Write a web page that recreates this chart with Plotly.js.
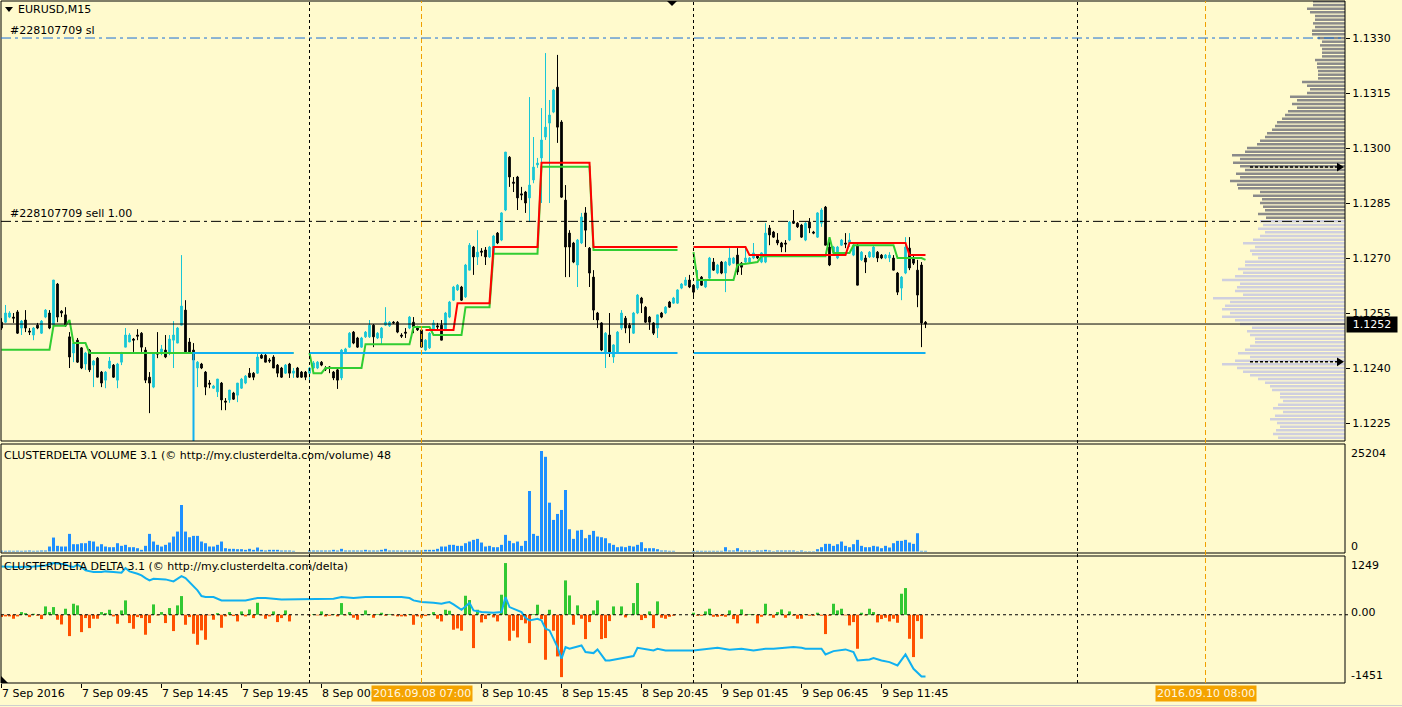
<!DOCTYPE html>
<html>
<head>
<meta charset="utf-8">
<script src="https://cdn.plot.ly/plotly-3.0.1.min.js"></script>
<style>
html,body{margin:0;padding:0;background:#fffacd;}
#chart{width:1402px;height:707px;}
</style>
</head>
<body>
<div id="chart"></div>
<script>
// ---------------- DATA ----------------
const open = [
1.12525,1.12525,1.12539,1.12539,1.12553,1.12509,1.12531,1.12501,1.12490,1.12517,
1.12495,1.12539,1.12550,1.12517,1.12629,1.12555,1.12545,1.12485,1.12441,1.12476,
1.12455,1.12411,1.12449,1.12408,1.12427,1.12389,1.12367,1.12400,1.12408,1.12367,
1.12416,1.12457,1.12471,1.12479,1.12490,1.12495,1.12449,1.12375,1.12348,1.12441,
1.12444,1.12449,1.12441,1.12476,1.12468,1.12517,1.12558,1.12471,1.12449,1.12400,
1.12411,1.12389,1.12359,1.12345,1.12335,1.12359,1.12310,1.12313,1.12332,1.12326,
1.12345,1.12359,1.12386,1.12386,1.12386,1.12435,1.12435,1.12422,1.12430,1.12408,
1.12400,1.12386,1.12411,1.12386,1.12400,1.12389,1.12389,1.12386,1.12400,1.12400,
1.12416,1.12400,1.12403,1.12389,1.12395,1.12373,1.12441,1.12457,1.12498,1.12482,
1.12457,1.12485,1.12485,1.12517,1.12482,1.12482,1.12517,1.12515,1.12525,1.12525,
1.12490,1.12498,1.12509,1.12525,1.12512,1.12504,1.12449,1.12455,1.12504,1.12515,
1.12517,1.12504,1.12539,1.12585,1.12613,1.12621,1.12594,1.12667,1.12730,1.12703,
1.12719,1.12722,1.12703,1.12714,1.12768,1.12749,1.12831,1.12975,1.12907,1.12921,
1.12875,1.12880,1.12864,1.12913,1.12954,1.12973,1.13030,1.13068,1.13098,1.13166,
1.13071,1.12858,1.12768,1.12741,1.12681,1.12741,1.12823,1.12727,1.12648,1.12550,
1.12523,1.12444,1.12490,1.12430,1.12444,1.12509,1.12536,1.12517,1.12495,1.12550,
1.12591,1.12566,1.12539,1.12523,1.12509,1.12550,1.12550,1.12580,1.12577,1.12577,
1.12618,1.12626,1.12640,1.12626,1.12618,1.12648,1.12621,1.12645,1.12689,1.12659,
1.12689,1.12659,1.12681,1.12686,1.12708,1.12686,1.12689,1.12689,1.12700,1.12708,
1.12689,1.12689,1.12782,1.12771,1.12749,1.12741,1.12741,1.12749,1.12798,1.12795,
1.12790,1.12749,1.12798,1.12771,1.12757,1.12795,1.12839,1.12730,1.12714,1.12700,
1.12735,1.12741,1.12741,1.12708,1.12735,1.12695,1.12700,1.12703,1.12703,1.12716,
1.12708,1.12700,1.12700,1.12700,1.12659,1.12618,1.12659,1.12727,1.12700,1.12667,
1.12681,1.12525];
const high = [
1.12536,1.12572,1.12555,1.12550,1.12558,1.12531,1.12558,1.12509,1.12512,1.12523,
1.12531,1.12561,1.12558,1.12640,1.12632,1.12558,1.12566,1.12498,1.12476,1.12482,
1.12457,1.12444,1.12452,1.12422,1.12430,1.12392,1.12392,1.12430,1.12411,1.12414,
1.12444,1.12509,1.12495,1.12482,1.12506,1.12498,1.12457,1.12389,1.12441,1.12498,
1.12463,1.12490,1.12490,1.12528,1.12512,1.12708,1.12585,1.12482,1.12468,1.12419,
1.12414,1.12392,1.12367,1.12354,1.12370,1.12362,1.12318,1.12340,1.12335,1.12359,
1.12373,1.12381,1.12400,1.12389,1.12441,1.12438,1.12438,1.12427,1.12435,1.12411,
1.12403,1.12411,1.12414,1.12400,1.12403,1.12392,1.12392,1.12403,1.12419,1.12419,
1.12419,1.12405,1.12405,1.12392,1.12397,1.12452,1.12455,1.12498,1.12501,1.12485,
1.12485,1.12501,1.12531,1.12520,1.12498,1.12512,1.12566,1.12528,1.12528,1.12528,
1.12495,1.12509,1.12542,1.12539,1.12515,1.12506,1.12479,1.12498,1.12531,1.12523,
1.12531,1.12553,1.12583,1.12624,1.12629,1.12624,1.12684,1.12741,1.12733,1.12776,
1.12727,1.12730,1.12733,1.12763,1.12771,1.12825,1.12989,1.12978,1.12921,1.12924,
1.12894,1.12883,1.13139,1.13030,1.12973,1.13109,1.13259,1.13131,1.13161,1.13254,
1.13076,1.12899,1.12776,1.12744,1.12752,1.12823,1.12839,1.12730,1.12667,1.12553,
1.12525,1.12498,1.12550,1.12465,1.12501,1.12558,1.12542,1.12523,1.12553,1.12602,
1.12594,1.12569,1.12542,1.12525,1.12545,1.12553,1.12569,1.12583,1.12594,1.12615,
1.12632,1.12648,1.12654,1.12629,1.12667,1.12651,1.12643,1.12703,1.12700,1.12684,
1.12692,1.12692,1.12727,1.12703,1.12727,1.12689,1.12727,1.12703,1.12741,1.12711,
1.12716,1.12795,1.12790,1.12774,1.12768,1.12744,1.12749,1.12801,1.12831,1.12798,
1.12793,1.12798,1.12809,1.12774,1.12825,1.12836,1.12842,1.12749,1.12733,1.12733,
1.12752,1.12768,1.12768,1.12738,1.12738,1.12719,1.12708,1.12719,1.12733,1.12719,
1.12711,1.12711,1.12716,1.12708,1.12662,1.12651,1.12757,1.12757,1.12708,1.12695,
1.12689,1.12528];
const low = [
1.12504,1.12523,1.12536,1.12523,1.12493,1.12490,1.12498,1.12490,1.12476,1.12506,
1.12493,1.12536,1.12506,1.12515,1.12525,1.12539,1.12512,1.12400,1.12416,1.12414,
1.12397,1.12395,1.12389,1.12348,1.12375,1.12348,1.12345,1.12397,1.12373,1.12345,
1.12408,1.12457,1.12471,1.12444,1.12476,1.12444,1.12359,1.12277,1.12345,1.12427,
1.12435,1.12427,1.12435,1.12400,1.12468,1.12517,1.12444,1.12441,1.12408,1.12348,
1.12397,1.12326,1.12345,1.12343,1.12321,1.12285,1.12285,1.12305,1.12313,1.12307,
1.12343,1.12356,1.12373,1.12367,1.12384,1.12425,1.12416,1.12414,1.12400,1.12375,
1.12373,1.12384,1.12373,1.12373,1.12373,1.12373,1.12367,1.12359,1.12397,1.12397,
1.12405,1.12392,1.12386,1.12367,1.12343,1.12367,1.12438,1.12455,1.12465,1.12455,
1.12455,1.12482,1.12482,1.12457,1.12479,1.12463,1.12515,1.12512,1.12520,1.12495,
1.12482,1.12482,1.12506,1.12495,1.12501,1.12457,1.12446,1.12452,1.12501,1.12504,
1.12476,1.12501,1.12536,1.12583,1.12610,1.12583,1.12591,1.12667,1.12654,1.12681,
1.12705,1.12681,1.12700,1.12711,1.12738,1.12746,1.12828,1.12894,1.12880,1.12831,
1.12858,1.12823,1.12798,1.12904,1.12946,1.12850,1.13022,1.12850,1.13095,1.13014,
1.12864,1.12648,1.12648,1.12686,1.12621,1.12738,1.12730,1.12621,1.12531,1.12509,
1.12446,1.12400,1.12430,1.12414,1.12441,1.12504,1.12495,1.12468,1.12493,1.12547,
1.12550,1.12523,1.12504,1.12490,1.12482,1.12536,1.12547,1.12564,1.12575,1.12575,
1.12615,1.12624,1.12618,1.12594,1.12613,1.12624,1.12618,1.12643,1.12665,1.12656,
1.12656,1.12607,1.12678,1.12684,1.12654,1.12654,1.12686,1.12686,1.12697,1.12697,
1.12686,1.12686,1.12735,1.12755,1.12735,1.12716,1.12716,1.12746,1.12793,1.12782,
1.12755,1.12746,1.12768,1.12765,1.12755,1.12785,1.12735,1.12678,1.12708,1.12697,
1.12733,1.12727,1.12730,1.12705,1.12626,1.12692,1.12659,1.12700,1.12700,1.12689,
1.12697,1.12697,1.12689,1.12667,1.12599,1.12585,1.12656,1.12667,1.12681,1.12566,
1.12457,1.12509];
const close = [
1.12509,1.12550,1.12550,1.12536,1.12495,1.12528,1.12509,1.12498,1.12509,1.12509,
1.12528,1.12558,1.12509,1.12640,1.12539,1.12550,1.12515,1.12430,1.12468,1.12416,
1.12400,1.12441,1.12395,1.12419,1.12375,1.12359,1.12389,1.12419,1.12375,1.12411,
1.12441,1.12490,1.12490,1.12476,1.12487,1.12457,1.12367,1.12359,1.12441,1.12438,
1.12452,1.12430,1.12479,1.12490,1.12509,1.12569,1.12444,1.12444,1.12422,1.12416,
1.12400,1.12348,1.12356,1.12351,1.12370,1.12313,1.12307,1.12340,1.12315,1.12359,
1.12370,1.12378,1.12375,1.12375,1.12430,1.12427,1.12416,1.12419,1.12400,1.12386,
1.12375,1.12408,1.12386,1.12392,1.12375,1.12375,1.12375,1.12400,1.12414,1.12416,
1.12408,1.12397,1.12400,1.12373,1.12367,1.12449,1.12452,1.12495,1.12468,1.12457,
1.12482,1.12498,1.12517,1.12485,1.12495,1.12509,1.12525,1.12525,1.12523,1.12498,
1.12487,1.12495,1.12539,1.12512,1.12504,1.12457,1.12476,1.12495,1.12523,1.12512,
1.12476,1.12550,1.12580,1.12621,1.12626,1.12585,1.12681,1.12735,1.12703,1.12716,
1.12716,1.12703,1.12730,1.12760,1.12741,1.12823,1.12989,1.12921,1.12904,1.12864,
1.12872,1.12850,1.12899,1.12948,1.12959,1.13022,1.13057,1.13090,1.13158,1.13057,
1.12866,1.12730,1.12730,1.12689,1.12749,1.12812,1.12776,1.12659,1.12558,1.12531,
1.12449,1.12495,1.12444,1.12463,1.12498,1.12550,1.12509,1.12509,1.12550,1.12599,
1.12577,1.12525,1.12525,1.12495,1.12545,1.12539,1.12566,1.12566,1.12591,1.12613,
1.12629,1.12640,1.12621,1.12607,1.12640,1.12626,1.12640,1.12700,1.12667,1.12681,
1.12659,1.12689,1.12700,1.12700,1.12662,1.12675,1.12700,1.12700,1.12714,1.12700,
1.12714,1.12768,1.12763,1.12757,1.12741,1.12730,1.12738,1.12798,1.12795,1.12785,
1.12757,1.12795,1.12782,1.12768,1.12823,1.12831,1.12735,1.12681,1.12730,1.12730,
1.12749,1.12738,1.12749,1.12735,1.12626,1.12716,1.12689,1.12716,1.12730,1.12700,
1.12700,1.12708,1.12708,1.12667,1.12607,1.12648,1.12730,1.12673,1.12686,1.12599,
1.12523,1.12520];

const volume = [
200,170,200,170,200,170,200,250,170,200,
250,250,1250,3500,1420,1250,1250,4420,1830,1830,
2080,2080,2670,2500,1250,1830,1250,1080,1080,2080,
1420,1670,1080,1080,830,420,1420,4420,2500,1670,
1250,1670,2250,3750,5000,11670,5000,3580,3920,3920,
2500,2080,1250,1250,1670,2500,830,670,670,580,
580,420,670,420,1000,420,250,420,420,420,
250,250,250,170,null,null,null,250,250,250,
250,250,250,420,250,670,250,250,250,250,
250,420,250,250,250,420,670,250,250,250,
250,250,250,250,250,250,420,420,420,670,
1250,1250,1670,1670,1420,1420,2080,2500,2920,3170,
2250,1250,1420,1080,1080,1670,4170,2670,2080,2500,
1420,2670,15170,4420,3920,25204,23750,12250,7920,9420,
10420,15420,5580,3170,5250,5420,3330,4170,5170,3750,
3580,3330,2080,1670,1080,1250,1080,1420,1250,1670,
2330,830,830,830,580,250,250,170,170,null,
null,null,null,170,170,170,170,170,170,170,
170,1080,250,250,830,250,250,250,100,250,
250,420,250,100,250,250,250,250,250,100,
250,100,100,100,580,1080,1920,1920,1420,1830,
2500,1420,1080,1830,2920,1420,1080,1080,1420,1250,
830,1420,1000,2080,2670,2670,2920,2250,1920,4580,
170,170];

const delta = [
-50,-35,-35,-85,-35,57,35,-50,21,-21,
-92,177,57,163,-106,-206,128,-454,234,199,
-369,-71,-284,-85,-85,57,35,106,-35,-191,
92,305,-177,-298,-50,-71,-425,-177,220,-14,
57,-177,142,-347,199,397,-213,-50,-404,-638,
-333,-532,-14,-106,35,-277,-35,57,-28,-142,
71,-35,113,-71,255,-14,-85,-35,71,-156,
-71,92,-142,null,null,null,null,-14,14,-14,
71,-35,-21,14,-35,248,-14,57,-64,-106,
14,92,14,-64,14,43,-21,14,-14,-35,
-35,-35,14,-213,-35,-64,-28,14,57,-85,
-142,106,85,-319,-291,-340,404,312,-709,106,
-163,-92,21,-57,-142,426,1099,-553,-340,-482,
-113,-184,-603,14,213,-92,-957,106,-340,-886,
-1326,730,411,-213,199,-85,-518,-156,92,305,
-518,-496,-135,177,0,177,-57,14,248,674,
-113,-71,71,-284,284,-64,-85,-43,-21,null,
null,null,null,43,-21,-21,71,128,-43,-43,
-28,-43,92,-92,-184,113,-14,14,14,-184,
-43,234,-14,-64,57,113,-64,71,-21,-85,
-85,14,-21,-21,43,-21,-411,-21,234,92,
128,-14,-227,-156,-723,43,-14,128,57,-163,
-92,-64,-142,-85,-170,447,567,-511,-900,-135,
-511,null];

// cumulative delta line (vertices)
const cdBars = [0,4,8,11,13,16,17,18,19,20,21,23,25,26,28,30,31,32,34,35,36,37,38,40,41,43,44,45,46,47,48,49,50,51,53,55,61,63,64,66,68,70,83,85,88,91,100,102,103,105,108,110,111,112,113,114,115,116,117,118,120,123,125,126,127,130,131,132,134,135,136,137,138,139,140,141,142,145,146,148,149,151,152,154,156,158,159,161,163,164,166,173,176,179,182,185,188,191,193,197,198,200,201,205,206,208,211,213,214,217,218,220,222,224,226,228,230,231];
const cdValues = [1028,1014,1028,1049,1099,1071,1028,1014,1064,1014,943,908,908,922,908,893,993,922,872,837,780,730,766,766,752,709,766,822,780,695,624,518,397,376,376,305,305,340,355,355,340,326,340,376,355,376,376,355,305,269,255,234,255,269,220,163,106,177,255,92,57,43,57,376,163,57,-64,-121,-85,-121,-298,-333,-510,-688,-936,-688,-723,-652,-794,-815,-737,-971,-971,-936,-900,-879,-702,-737,-759,-723,-759,-759,-723,-702,-744,-723,-759,-723,-723,-702,-688,-702,-723,-723,-844,-773,-737,-794,-971,-950,-922,-971,-1007,-1078,-844,-1149,-1312,-1312];

// indicator levels (vertices, null = break between sessions)
const greenBars = [0,12,13,16,17,18,21,22,73,null,77,78,80,81,90,91,102,103,107,108,115,116,122,123,134,135,147,148,169,null,173,174,183,184,187,189,190,206,207,208,212,213,223,224,230,231];
const greenValues = [1.12450,1.12450,1.12515,1.12515,1.12531,1.12468,1.12468,1.12441,1.12441,null,1.12441,1.12386,1.12386,1.12400,1.12400,1.12465,1.12465,1.12512,1.12512,1.12490,1.12490,1.12566,1.12566,1.12712,1.12712,1.12949,1.12949,1.12722,1.12722,null,1.12716,1.12640,1.12640,1.12681,1.12686,1.12689,1.12705,1.12705,1.12757,1.12714,1.12714,1.12735,1.12735,1.12700,1.12700,1.12695];
const redBars = [106,113,114,122,123,134,135,147,148,169,null,173,186,187,211,212,226,227,231];
const redValues = [1.12504,1.12504,1.12577,1.12577,1.12730,1.12730,1.12960,1.12960,1.12730,1.12730,null,1.12730,1.12730,1.12708,1.12708,1.12741,1.12741,1.12708,1.12708];
const blueBars = [0,48,73,null,77,169,null,173,231];
const blueValues = [1.12100,1.12441,1.12441,null,1.12441,1.12441,null,1.12441,1.12441];

// volume profile (top level 1.1340, one value per pip downward)
const profileTop = 1.1340;
const profileStep = 0.0001;
const profileVolume = [
32,32,38,35,30,30,32,30,33,33,
27,23,25,23,23,23,30,28,28,27,
27,27,43,38,35,38,55,48,53,48,
57,60,63,68,70,73,78,80,85,88,
98,100,113,105,112,105,100,109,105,115,
108,107,85,92,83,85,82,80,87,79,
85,82,87,80,85,92,102,90,95,93,
87,100,100,107,102,110,123,105,108,110,
102,132,115,120,123,115,123,110,105,93,
98,95,90,90,95,100,107,95,110,123,
108,102,95,87,80,75,73,65,65,62,
67,72,62,70,75,68,65,69,72,67];
const pocPrices = [1.12948, 1.12417];

// axis labels
const priceTicks = [1.1225,1.1240,1.1255,1.1270,1.1285,1.1300,1.1315,1.1330];
const tickBars = [0,20,40,60,80,120,140,160,180,200,220];
const tickText = ['7 Sep 2016','7 Sep 09:45','7 Sep 14:45','7 Sep 19:45','8 Sep 00:45','8 Sep 10:45','8 Sep 15:45','8 Sep 20:45','9 Sep 01:45','9 Sep 06:45','9 Sep 11:45'];
const dayBars = [77,173,269];
const markerBars = [105,301];
const markerText = ['2016.09.08 07:00','2016.09.10 08:00'];
const slPrice = 1.1330, entryPrice = 1.1280, bidPrice = 1.1252;
const volMax = 25204, deltaMax = 1249, deltaMin = -1451;

// ---------------- BUILD ----------------
const bars = open.map((_, i) => i);
const PW = 1344, PH = 682, ML = 1, MT = 1;
const fx = x => (x - ML) / PW;
const fy = y => (MT + PH - y) / PH;
const font = {family: 'DejaVu Sans, Verdana, sans-serif', size: 11, color: '#000'};
const BG = '#fffacd';

const levels = profileVolume.map((_, k) => +(profileTop - k * profileStep).toFixed(4));
const profColors = levels.map(p => p >= 1.12805 ? '#8a8a8a' : '#cfcfdf');

const traces = [
  {type:'bar', orientation:'h', x:profileVolume, y:levels, xaxis:'x2', yaxis:'y',
   width:0.000068, marker:{color:profColors, line:{width:0}}, hoverinfo:'skip', showlegend:false},
  {type:'candlestick', x:bars, open:open, high:high, low:low, close:close, xaxis:'x', yaxis:'y',
   increasing:{line:{color:'#18c6d6', width:1}, fillcolor:'#18c6d6'},
   decreasing:{line:{color:'#000000', width:1}, fillcolor:'#000000'},
   whiskerwidth:0, hoverinfo:'skip', showlegend:false},
  {type:'scatter', mode:'lines', x:greenBars, y:greenValues, xaxis:'x', yaxis:'y',
   line:{color:'#32cd32', width:2}, connectgaps:false, hoverinfo:'skip', showlegend:false},
  {type:'scatter', mode:'lines', x:redBars, y:redValues, xaxis:'x', yaxis:'y',
   line:{color:'#ff0000', width:2}, connectgaps:false, hoverinfo:'skip', showlegend:false},
  {type:'scatter', mode:'lines', x:blueBars, y:blueValues, xaxis:'x', yaxis:'y',
   line:{color:'#10b0f0', width:2, shape:'hv'}, connectgaps:false, hoverinfo:'skip', showlegend:false},
  {type:'bar', x:bars, y:volume, xaxis:'x', yaxis:'y2', width:0.75,
   marker:{color:'#1e8fff', line:{width:0}}, hoverinfo:'skip', showlegend:false},
  {type:'bar', x:bars, y:delta, xaxis:'x', yaxis:'y3', width:0.75,
   marker:{color:delta.map(v => (v !== null && v >= 0) ? '#32c832' : '#ff5000'), line:{width:0}},
   hoverinfo:'skip', showlegend:false},
  {type:'scatter', mode:'lines', x:cdBars, y:cdValues, xaxis:'x', yaxis:'y3',
   line:{color:'#10b0f0', width:2}, hoverinfo:'skip', showlegend:false}
];

const shapes = [];
const ann = [];
// pane borders
['y','y2','y3'].forEach(a => shapes.push({type:'rect', xref:'paper', yref:a+' domain', x0:0, x1:1, y0:0, y1:1,
  line:{color:'#000', width:1}, fillcolor:'rgba(0,0,0,0)', layer:'above'}));
// day separators
dayBars.forEach(b => shapes.push({type:'line', xref:'x', yref:'paper', x0:b, x1:b, y0:0, y1:1,
  line:{color:'#000', width:1, dash:'3px,3px'}, layer:'above'}));
markerBars.forEach(b => shapes.push({type:'line', xref:'x', yref:'paper', x0:b, x1:b, y0:0, y1:1,
  line:{color:'#f0a000', width:1, dash:'5px,3px'}, layer:'above'}));
// order lines
shapes.push({type:'line', xref:'paper', yref:'y', x0:0, x1:1, y0:slPrice, y1:slPrice,
  line:{color:'#1a6fd8', width:1, dash:'10px,4px,3px,4px'}});
shapes.push({type:'line', xref:'paper', yref:'y', x0:0, x1:1, y0:entryPrice, y1:entryPrice,
  line:{color:'#000', width:1, dash:'10px,4px,3px,4px'}});
shapes.push({type:'line', xref:'paper', yref:'y', x0:0, x1:1, y0:bidPrice, y1:bidPrice,
  line:{color:'#000', width:1}});
shapes.push({type:'line', xref:'paper', yref:'y3', x0:0, x1:1.003, y0:0, y1:0,
  line:{color:'#000', width:1, dash:'3px,3px'}});
// POC arrows
pocPrices.forEach(p => {
  shapes.push({type:'line', xref:'paper', yref:'y', x0:fx(1250), x1:fx(1338), y0:p, y1:p,
    line:{color:'#000', width:1.5, dash:'3px,2px'}});
  shapes.push({type:'path', xref:'paper', yref:'y',
    path:`M ${fx(1337)},${p+0.00012} L ${fx(1344)},${p} L ${fx(1337)},${p-0.00012} Z`,
    fillcolor:'#000', line:{color:'#000', width:0}});
});
// small triangles
shapes.push({type:'path', xref:'paper', yref:'paper',
  path:`M ${fx(5)},${fy(7)} L ${fx(13)},${fy(7)} L ${fx(9)},${fy(12)} Z`, fillcolor:'#000', line:{width:0}});
shapes.push({type:'path', xref:'paper', yref:'paper',
  path:`M ${fx(667)},${fy(1)} L ${fx(677)},${fy(1)} L ${fx(672)},${fy(6)} Z`, fillcolor:'#000', line:{width:0}});
shapes.push({type:'path', xref:'paper', yref:'paper',
  path:`M ${fx(1)},${fy(676)} L ${fx(1)},${fy(683)} L ${fx(8)},${fy(683)} Z`, fillcolor:'#000', line:{width:0}});
shapes.push({type:'line', xref:'paper', yref:'paper', x0:fx(0), x1:fx(1402), y0:fy(705.5), y1:fy(705.5),
  line:{color:'#cfcfcf', width:1}});

// texts
const txt = (x, y, t) => ann.push({xref:'paper', yref:'paper', x:fx(x), y:fy(y), xanchor:'left', yanchor:'middle',
  text:t, showarrow:false, font:font});
txt(16, 10, 'EURUSD,M15');
txt(8, 31, '#228107709 sl');
txt(8, 214, '#228107709 sell 1.00');
txt(2, 455, 'CLUSTERDELTA VOLUME 3.1 (© http://my.clusterdelta.com/volume) 48');
txt(2, 566, 'CLUSTERDELTA DELTA 3.1 (© http://my.clusterdelta.com/delta)');

// right-side labels of indicator panes
const rlab = (yref, v, t, ys) => ann.push({xref:'paper', yref:yref, x:1, y:v, xanchor:'left', yanchor:'middle',
  xshift:4, yshift:ys, text:t, showarrow:false, font:font});
rlab('y2', volMax, String(volMax), -2);
rlab('y2', 0, '0', 5);
rlab('y3', deltaMax, String(deltaMax), -9);
rlab('y3', 0, '0.00', 2);
rlab('y3', deltaMin, String(deltaMin), 8);

// bid price box
ann.push({xref:'paper', yref:'y', x:1, y:bidPrice, xanchor:'left', yanchor:'middle', xshift:1,
  text:bidPrice.toFixed(4), showarrow:false, bgcolor:'#000', borderpad:1, width:48, height:13,
  font:{family:font.family, size:11, color:'#fff'}});

// time labels (left-aligned at their tick)
tickBars.forEach((b, k) => ann.push({xref:'x', yref:'paper', x:b, y:0, xanchor:'left', yanchor:'top',
  xshift:-2, yshift:-2, text:tickText[k], showarrow:false, font:font}));
markerBars.forEach((b, k) => ann.push({xref:'x', yref:'paper', x:b, y:0, xanchor:'center', yanchor:'top',
  yshift:-2, text:markerText[k], showarrow:false, bgcolor:'#f4a300', borderpad:1,
  font:{family:font.family, size:11, color:'#fff8e0'}}));

const layout = {
  width:1402, height:707,
  margin:{l:ML, r:57, t:MT, b:24, pad:0},
  paper_bgcolor:BG, plot_bgcolor:BG,
  showlegend:false, barmode:'overlay', boxgap:0.4,
  font:font,
  xaxis:{domain:[0,1], range:[-0.125, 335.875], anchor:'y3', showgrid:false, zeroline:false,
    showline:false, ticks:'outside', ticklen:4, tickcolor:'#000', tickvals:tickBars,
    showticklabels:false, rangeslider:{visible:false}, fixedrange:true},
  xaxis2:{overlaying:'x', anchor:'y', range:[PW, 0], visible:false, fixedrange:true},
  yaxis:{domain:[(683-441)/PH, 1], range:[1.12201, 1.13401], side:'right', anchor:'x',
    tickvals:priceTicks, ticktext:priceTicks.map(v => v.toFixed(4)), ticks:'outside', ticklen:4,
    tickcolor:'#000', showgrid:false, zeroline:false, showline:false, tickfont:font, fixedrange:true},
  yaxis2:{domain:[(683-553)/PH, (683-444)/PH], range:[-376, 26962], anchor:'x', side:'right',
    showticklabels:false, ticks:'', showgrid:false, zeroline:false, showline:false, fixedrange:true},
  yaxis3:{domain:[0, (683-556)/PH], range:[deltaMin, deltaMax], anchor:'x', side:'right',
    showticklabels:false, ticks:'', showgrid:false, zeroline:false, showline:false, fixedrange:true},
  shapes:shapes,
  annotations:ann
};

Plotly.newPlot('chart', traces, layout, {staticPlot:true, displayModeBar:false});
</script>
</body>
</html>
